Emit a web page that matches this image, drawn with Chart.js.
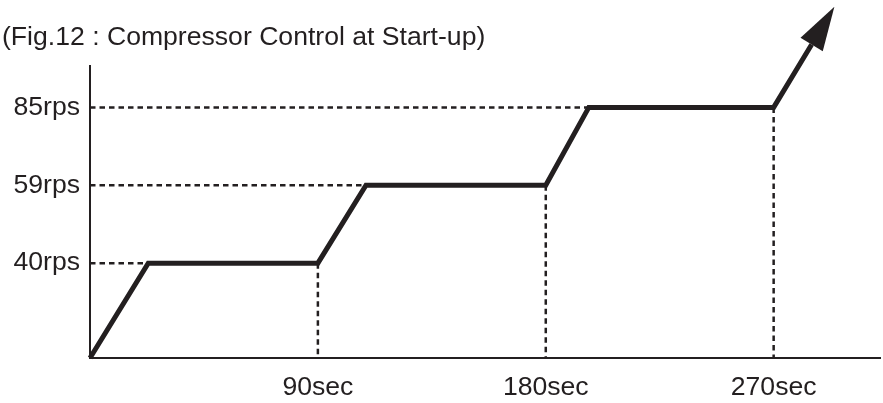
<!DOCTYPE html>
<html>
<head>
<meta charset="utf-8">
<script src="https://cdn.jsdelivr.net/npm/chart.js@4/dist/chart.umd.min.js"></script>
<style>
  html, body { margin: 0; padding: 0; background: #ffffff; }
  #c { display: block; }
</style>
</head>
<body>
<canvas id="c" width="883" height="403"></canvas>
<script>
// ---- data ----
const titleText   = '(Fig.12 : Compressor Control at Start-up)';
const timeSec     = [0, 23, 90, 109, 180, 197, 270, 285];   // seconds
const speedRps    = [0, 40, 40, 59, 59, 85, 85, 106];       // rps
const yTickValues = [40, 59, 85];
const yTickLabels = ['40rps', '59rps', '85rps'];
const xTickValues = [90, 180, 270];
const xTickLabels = ['90sec', '180sec', '270sec'];

// ---- styling / layout ----
const ink = '#231f20';
const fontFamily = "'Liberation Sans', Arial, Helvetica, sans-serif";
const fontSize = 26.6;
// schematic (not-to-scale) speed axis: breakpoints and relative spacing between them
const axisBreaks = [0, 40, 59, 85];
const axisGaps   = [1.218, 1, 1];

class StepScale extends Chart.LinearScale {
  _toUnits(v) {
    let u = 0;
    for (let i = 1; i < axisBreaks.length; i++) {
      const g = axisGaps[i - 1];
      if (v <= axisBreaks[i] || i === axisBreaks.length - 1) {
        return u + (v - axisBreaks[i - 1]) / (axisBreaks[i] - axisBreaks[i - 1]) * g;
      }
      u += g;
    }
    return u;
  }
  _fromUnits(u) {
    let acc = 0;
    for (let i = 1; i < axisBreaks.length; i++) {
      const g = axisGaps[i - 1];
      if (u <= acc + g || i === axisBreaks.length - 1) {
        return axisBreaks[i - 1] + (u - acc) / g * (axisBreaks[i] - axisBreaks[i - 1]);
      }
      acc += g;
    }
    return axisBreaks[axisBreaks.length - 1];
  }
  getPixelForValue(value) {
    if (value === null || value === undefined || isNaN(value)) return NaN;
    return this.getPixelForDecimal((this._toUnits(value) - this._startValue) / this._valueRange);
  }
  getValueForPixel(pixel) {
    const u = this._startValue + this.getDecimalForPixel(pixel) * this._valueRange;
    return this._fromUnits(u);
  }
}
StepScale.id = 'step';
StepScale.defaults = Chart.LinearScale.defaults;
Chart.register(StepScale);

// arrow head at the end of the speed line, placed from the line's own computed points
const arrowHeadPlugin = {
  id: 'arrowHead',
  afterDatasetsDraw(chart) {
    const pts = chart.getDatasetMeta(0).data;
    if (pts.length < 2) return;
    const a = pts[pts.length - 2], b = pts[pts.length - 1];
    const ang = Math.atan2(b.y - a.y, b.x - a.x);
    const ctx = chart.ctx;
    ctx.save();
    ctx.translate(b.x, b.y);
    ctx.rotate(ang);
    ctx.beginPath();
    ctx.moveTo(44, 0);
    ctx.lineTo(0, -13);
    ctx.lineTo(0, 13);
    ctx.closePath();
    ctx.fillStyle = ink;
    ctx.fill();
    ctx.restore();
  }
};

// ---- datasets ----
const mainLine = timeSec.map((t, i) => ({ x: t, y: speedRps[i] }));
const guideStyle = {
  borderColor: ink, borderWidth: 2.5, borderDash: [5.5, 4],
  pointRadius: 0, fill: false, tension: 0, clip: false
};
const guides = [];
for (let i = 1; i < timeSec.length - 1; i++) {
  if (i % 2 === 1) {
    // horizontal guide from the speed axis to where the level is reached
    guides.push(Object.assign({ data: [{ x: 0, y: speedRps[i] }, { x: timeSec[i], y: speedRps[i] }] }, guideStyle));
  } else {
    // vertical guide from the end of the hold down to the time axis
    guides.push(Object.assign({ data: [{ x: timeSec[i], y: speedRps[i] }, { x: timeSec[i], y: 0 }] }, guideStyle));
  }
}

new Chart(document.getElementById('c'), {
  type: 'line',
  data: {
    datasets: [
      {
        data: mainLine,
        borderColor: ink,
        borderWidth: 5,
        borderJoinStyle: 'miter',
        borderCapStyle: 'butt',
        pointRadius: 0,
        fill: false,
        tension: 0,
        clip: false
      },
      ...guides
    ]
  },
  options: {
    responsive: false,
    animation: false,
    events: [],
    layout: { padding: { left: 2, right: 3, top: 0, bottom: 0 } },
    plugins: {
      legend: { display: false },
      tooltip: { enabled: false },
      title: {
        display: true,
        text: titleText,
        align: 'start',
        color: ink,
        font: { family: fontFamily, size: fontSize, weight: 'normal' },
        padding: { top: 22, bottom: 11.6 }
      }
    },
    scales: {
      x: {
        type: 'linear',
        min: 0,
        max: 312,
        bounds: 'data',
        grid: { display: false, drawTicks: false },
        border: { display: true, color: ink, width: 2 },
        ticks: {
          padding: 14,
          maxRotation: 0,
          autoSkip: false,
          color: ink,
          font: { family: fontFamily, size: fontSize },
          callback: (v) => xTickLabels[xTickValues.indexOf(v)]
        },
        afterBuildTicks: (scale) => { scale.ticks = xTickValues.map(v => ({ value: v })); },
        afterFit: (scale) => { scale.height = 45; }
      },
      y: {
        type: 'step',
        min: 0,
        max: 3.756,
        bounds: 'data',
        grid: { display: false, drawTicks: false },
        border: { display: true, color: ink, width: 2 },
        ticks: {
          padding: 10,
          autoSkip: false,
          color: ink,
          font: { family: fontFamily, size: fontSize },
          callback: (v) => yTickLabels[yTickValues.indexOf(v)]
        },
        afterBuildTicks: (scale) => { scale.ticks = yTickValues.map(v => ({ value: v })); },
        afterFit: (scale) => { scale.width = 88; }
      }
    }
  },
  plugins: [arrowHeadPlugin]
});
</script>
</body>
</html>
